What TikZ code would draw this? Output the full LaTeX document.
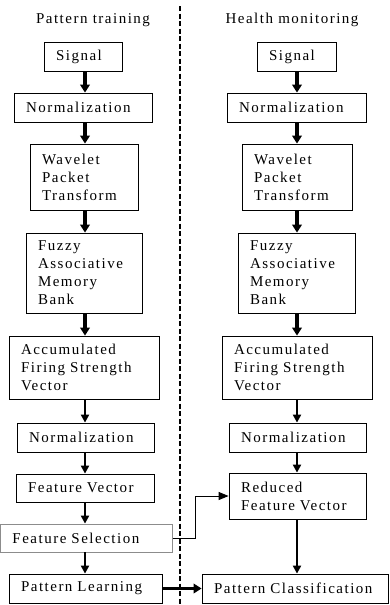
\documentclass[tikz,border=0pt]{standalone}
\usepackage{fontspec}
\setmainfont[LetterSpace=10]{Liberation Serif}
\usetikzlibrary{arrows.meta}
\begin{document}
\begin{tikzpicture}[x=1pt,y=-1pt,
  font=\fontsize{15}{18}\selectfont,
  box/.style={draw, line width=0.8pt, inner xsep=12pt, inner ysep=0pt, align=left},
  bigarrow/.style={line width=3.2pt, -{Triangle[width=9.5pt,length=8pt]}},
  midarrow/.style={line width=2pt, -{Triangle[width=8pt,length=8pt]}},
  thinarrow/.style={line width=1pt, -{Triangle[width=8pt,length=10pt]}},
  title/.style={inner sep=0pt}]
\useasboundingbox (0,0) rectangle (389,605);
% titles
\node[title] (t1) at (93,20) {Pattern training};
\node[title] (t2) at (292,20) {Health monitoring};
% divider
\coordinate (d1) at (180,6);
\coordinate (d2) at (180,605);
\draw[line width=1.5pt, dash pattern=on 5pt off 2.5pt] (d1) -- (d2);
% left column
\node[box, text width=54pt, minimum height=29pt] (sig1) at (83,56.5) {Signal};
\node[box, text width=114pt, minimum height=29pt] (norm1) at (83,107.5) {Normalization};
\node[box, text width=84pt, minimum height=66pt] (wpt1) at (84,177) {Wavelet\\Packet\\Transform};
\node[box, text width=92pt, minimum height=80pt] (fam1) at (84,273) {Fuzzy\\Associative\\Memory\\Bank};
\node[box, text width=126pt, minimum height=63pt] (afs1) at (84,367.5) {Accumulated\\Firing Strength\\Vector};
\node[box, text width=113pt, minimum height=29pt] (norm1b) at (85.5,437.5) {Normalization};
\node[box, text width=114pt, minimum height=28pt] (fv) at (85,488) {Feature Vector};
\node[box, draw=black!45, text width=148pt, minimum height=28pt] (fs) at (86.5,538) {Feature Selection};
\node[box, text width=129pt, minimum height=29pt] (pl) at (85.5,588.5) {Pattern Learning};
% right column
\node[box, text width=55pt, minimum height=29pt] (sig2) at (296.5,56.5) {Signal};
\node[box, text width=115pt, minimum height=29pt] (norm2) at (296.5,107.5) {Normalization};
\node[box, text width=86pt, minimum height=66pt] (wpt2) at (297,177) {Wavelet\\Packet\\Transform};
\node[box, text width=93pt, minimum height=80pt] (fam2) at (296.5,273) {Fuzzy\\Associative\\Memory\\Bank};
\node[box, text width=126pt, minimum height=63pt] (afs2) at (297,367.5) {Accumulated\\Firing Strength\\Vector};
\node[box, text width=113pt, minimum height=29pt] (norm2b) at (297.5,437.5) {Normalization};
\node[box, text width=113pt, minimum height=46pt] (rfv) at (297.5,496) {Reduced\\Feature Vector};
\node[box, text width=162pt, minimum height=29pt] (pc) at (295,588.5) {Pattern Classification};
% arrow axes
\coordinate (lx) at (85,0);
\coordinate (rx) at (297,0);
% left arrows
\draw[bigarrow] (sig1.south -| lx) -- (norm1.north -| lx);
\draw[bigarrow] (norm1.south -| lx) -- (wpt1.north -| lx);
\draw[bigarrow] (wpt1.south -| lx) -- (fam1.north -| lx);
\draw[bigarrow] (fam1.south -| lx) -- (afs1.north -| lx);
\draw[midarrow] (afs1.south -| lx) -- (norm1b.north -| lx);
\draw[midarrow] (norm1b.south -| lx) -- (fv.north -| lx);
\draw[midarrow] (fv.south -| lx) -- (fs.north -| lx);
\draw[midarrow] (fs.south -| lx) -- (pl.north -| lx);
% right arrows
\draw[bigarrow] (sig2.south -| rx) -- (norm2.north -| rx);
\draw[bigarrow] (norm2.south -| rx) -- (wpt2.north -| rx);
\draw[bigarrow] (wpt2.south -| rx) -- (fam2.north -| rx);
\draw[bigarrow] (fam2.south -| rx) -- (afs2.north -| rx);
\draw[midarrow] (afs2.south -| rx) -- (norm2b.north -| rx);
\draw[midarrow] (norm2b.south -| rx) -- (rfv.north -| rx);
\draw[midarrow] (rfv.south -| rx) -- (pc.north -| rx);
% cross connections
\coordinate (bend) at (195,0);
\draw[thinarrow] (fs.east) -- (fs.east -| bend) -- (rfv.west -| bend) -- (rfv.west);
\draw[bigarrow] (pl.east) -- (pc.west);
\end{tikzpicture}
\end{document}
